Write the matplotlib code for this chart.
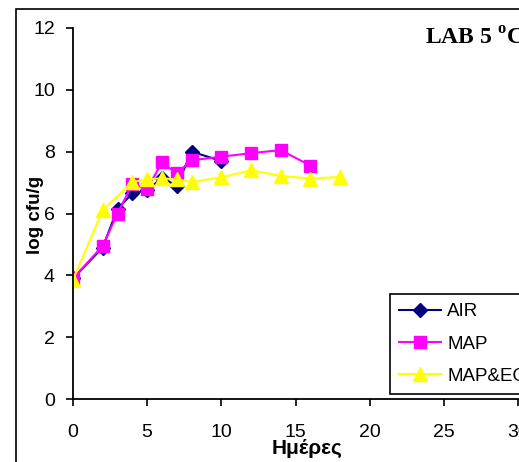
import matplotlib
matplotlib.use('Agg')
import matplotlib.pyplot as plt
from matplotlib.patches import Rectangle

# days and log cfu/g per packaging
air_days = [0, 2, 3, 4, 5, 6, 7, 8, 10]
air_vals = [3.9, 4.9, 6.15, 6.65, 6.75, 7.15, 6.9, 8.0, 7.7]

map_days = [0, 2, 3, 4, 5, 6, 7, 8, 10, 12, 14, 16]
map_vals = [3.9, 4.95, 6.0, 6.95, 6.8, 7.65, 7.3, 7.72, 7.84, 7.95, 8.05, 7.55]

eo_days = [0, 2, 4, 5, 6, 7, 8, 10, 12, 14, 16, 18]
eo_vals = [3.85, 6.1, 7.02, 7.1, 7.14, 7.1, 7.02, 7.17, 7.4, 7.22, 7.13, 7.18]

x_ticks = [0, 5, 10, 15, 20, 25, 30]
y_ticks = [0, 2, 4, 6, 8, 10, 12]

plt.rcParams['font.family'] = ['Liberation Sans', 'DejaVu Sans']
plt.rcParams['mathtext.fontset'] = 'custom'
plt.rcParams['mathtext.bf'] = 'Liberation Serif:bold'
plt.rcParams['mathtext.rm'] = 'Liberation Serif'

W, H = 519, 462
fig = plt.figure(figsize=(W / 100, H / 100), dpi=100)

# outer chart frame (cropped at right and bottom)
fig.patches.append(Rectangle((16 / W, -0.1), 1.2, 1.1 - 9 / H, transform=fig.transFigure,
                             fill=False, edgecolor='black', linewidth=1.2))

ax = fig.add_axes([73 / W, (H - 399) / H, 445 / W, 371 / H])
ax.plot(air_days, air_vals, color='#000080', marker='D', markersize=7, linewidth=1.5, label='AIR')
ax.plot(map_days, map_vals, color='#FF00FF', marker='s', markersize=8, linewidth=1.5, label='MAP')
ax.plot(eo_days, eo_vals, color='#FFFF00', marker='^', markersize=10, linewidth=1.5, label='MAP&EO')

ax.set_xlim(0, 30)
ax.set_ylim(0, 12)
ax.set_xticks(x_ticks)
ax.set_yticks(y_ticks)
ax.spines['top'].set_visible(False)
ax.spines['right'].set_visible(False)
ax.spines['left'].set_linewidth(1.3)
ax.spines['bottom'].set_linewidth(1.3)
ax.tick_params(direction='out', length=5, width=1.2, labelsize=14)
ax.tick_params(axis='x', pad=13)
ax.tick_params(axis='y', pad=8)

fig.text(35 / W, 1 - 215 / H, 'log cfu/g', rotation=90, ha='center', va='center',
         fontsize=13.5, fontweight='bold')
fig.text(307 / W, 1 - 448 / H, 'Ημέρες', ha='center', va='center',
         fontsize=15, fontweight='bold')
fig.text(425 / W, 1 - 39 / H, r'LAB 5 $^{\mathbf{o}}$C', ha='left', va='center',
         fontsize=17, fontweight='bold', family='Liberation Serif')

leg = ax.legend(loc='upper left', bbox_to_anchor=(390 / W, 1 - 294 / H),
                bbox_transform=fig.transFigure, borderaxespad=0, fancybox=False,
                framealpha=1, edgecolor='black', fontsize=13.5, handlelength=2.2,
                handletextpad=0.35, labelspacing=0.8, borderpad=0.5)
leg.get_frame().set_linewidth(1.2)

fig.savefig('out.png', dpi=100)
